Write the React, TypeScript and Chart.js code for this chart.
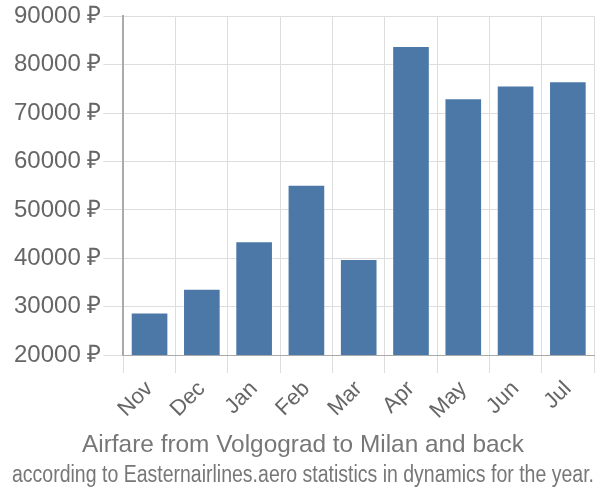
import React, { useEffect, useRef } from "react";
import { Chart, registerables } from "chart.js";

Chart.register(...registerables);

const months = ["Nov", "Dec", "Jan", "Feb", "Mar", "Apr", "May", "Jun", "Jul"];
const prices = [28800, 33700, 43500, 55200, 39850, 83900, 73100, 75700, 76600];
const titleText = "Airfare from Volgograd to Milan and back";
const subtitleText = "according to Easternairlines.aero statistics in dynamics for the year.";

export default function App() {
  const ref = useRef<HTMLCanvasElement>(null);
  useEffect(() => {
    document.body.style.margin = "0";
    const font = "'Liberation Sans', Arial, sans-serif";
    const chart = new Chart(ref.current!, {
      type: "bar",
      data: {
        labels: months,
        datasets: [
          {
            data: prices,
            backgroundColor: "#4c78a8",
            borderColor: "rgba(255,255,255,0.45)",
            borderWidth: 1,
            barPercentage: 0.72,
            categoryPercentage: 1,
          },
        ],
      },
      options: {
        animation: false,
        responsive: false,
        layout: { padding: { left: 12, right: 6, top: 1, bottom: 0 } },
        plugins: {
          legend: { display: false },
          tooltip: { enabled: false },
          title: {
            display: true,
            text: titleText,
            position: "bottom",
            weight: 1000,
            color: "#777",
            font: { family: font, size: 24.4, weight: "normal" },
            padding: { top: 4, bottom: 1 },
          },
          subtitle: {
            display: true,
            text: subtitleText,
            position: "bottom",
            weight: 2000,
            color: "#777",
            font: { family: font, size: 23, weight: "normal" },
            padding: { top: 0, bottom: 11 },
          },
        },
        scales: {
          x: {
            grid: { color: "#ddd", lineWidth: 1, tickLength: 18, offset: true },
            border: { color: "#aaa" },
            ticks: {
              color: "#666",
              font: { family: font, size: 22 },
              maxRotation: 45,
              minRotation: 45,
            },
          },
          y: {
            min: 20000,
            max: 90000,
            grid: { color: "#ddd", lineWidth: 1, tickLength: 20 },
            border: { color: "#aaa", width: 2 },
            ticks: {
              stepSize: 10000,
              color: "#666",
              font: { family: font, size: 24 },
              padding: 2,
              callback: (v: any) => `${v} ₽`,
            },
          },
        },
      },
    });
    return () => chart.destroy();
  }, []);
  return <canvas ref={ref} width={600} height={500} />;
}
